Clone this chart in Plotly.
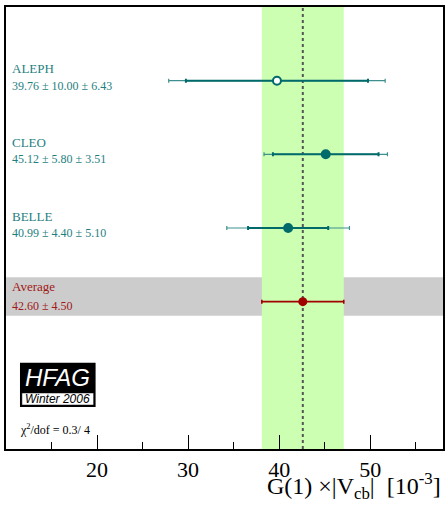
import numpy as np
import plotly.graph_objects as go

# ---- data ----
experiments = ["ALEPH", "CLEO", "BELLE"]
values = [39.76, 45.12, 40.99]
stat_err = [10.00, 5.80, 4.40]
syst_err = [6.43, 3.51, 5.10]
open_marker = [True, False, False]
avg_value = 42.60
avg_err = 4.50
chi2_text = "0.3/ 4"
x_ticks = [20, 30, 40, 50]
x_range = [10, 58]

y_pos = [4, 3, 2]
y_avg = 1

TEAL_TXT = "#1f7f7f"
TEAL = "#006a6a"
TEAL_LIGHT = "#3f8f8f"
RED = "#a00000"
RED_TXT = "#a01818"
SERIF = "Liberation Serif, Times New Roman, serif"
SANS = "Liberation Sans, Arial, sans-serif"

fig = go.Figure()

tot_err = [float(np.hypot(s, y)) for s, y in zip(stat_err, syst_err)]

# total error (thin)
fig.add_trace(go.Scatter(
    x=values, y=y_pos, mode="markers",
    marker=dict(size=1, color="rgba(0,0,0,0)"),
    error_x=dict(type="data", array=tot_err, color=TEAL_LIGHT, thickness=1.2, width=2),
    hoverinfo="skip", showlegend=False))
# stat error (thick) + markers
fig.add_trace(go.Scatter(
    x=values, y=y_pos, mode="markers",
    marker=dict(size=8,
                color=["white" if o else TEAL for o in open_marker],
                symbol="circle",
                line=dict(color=TEAL, width=2)),
    error_x=dict(type="data", array=stat_err, color=TEAL, thickness=2, width=2),
    showlegend=False))
# average
fig.add_trace(go.Scatter(
    x=[avg_value], y=[y_avg], mode="markers",
    marker=dict(size=9, color=RED),
    error_x=dict(type="data", array=[avg_err], color=RED, thickness=1.6, width=2),
    showlegend=False))

# background bands
fig.add_shape(type="rect", xref="paper", yref="y", x0=0, x1=1, y0=y_avg - 0.19, y1=y_avg + 0.33,
              fillcolor="#cccccc", line_width=0, layer="below")
fig.add_shape(type="rect", xref="x", yref="paper", x0=avg_value - avg_err, x1=avg_value + avg_err,
              y0=0, y1=1, fillcolor="#ccffb2", line_width=0, layer="below")
fig.add_shape(type="line", xref="x", yref="paper", x0=avg_value, x1=avg_value, y0=0, y1=1,
              line=dict(color="#555555", width=2, dash="dot"), layer="below")

# labels
for name, v, s, sy, y in zip(experiments, values, stat_err, syst_err, y_pos):
    fig.add_annotation(x=0.009, xref="paper", y=y + 0.16, yref="y", text=name,
                       showarrow=False, xanchor="left", yanchor="middle",
                       font=dict(family=SERIF, size=13, color=TEAL_TXT))
    fig.add_annotation(x=0.009, xref="paper", y=y - 0.07, yref="y",
                       text=f"{v:.2f} ± {s:.2f} ± {sy:.2f}",
                       showarrow=False, xanchor="left", yanchor="middle",
                       font=dict(family=SERIF, size=12, color=TEAL_TXT))
fig.add_annotation(x=0.009, xref="paper", y=y_avg + 0.2, yref="y", text="Average",
                   showarrow=False, xanchor="left", yanchor="middle",
                   font=dict(family=SERIF, size=13, color=RED_TXT))
fig.add_annotation(x=0.009, xref="paper", y=y_avg - 0.06, yref="y",
                   text=f"{avg_value:.2f} ± {avg_err:.2f}",
                   showarrow=False, xanchor="left", yanchor="middle",
                   font=dict(family=SERIF, size=12, color=RED_TXT))

# HFAG logo
fig.add_shape(type="rect", xref="paper", yref="paper", x0=0.032, x1=0.205, y0=0.095, y1=0.195,
              fillcolor="black", line_width=0)
fig.add_shape(type="rect", xref="paper", yref="paper", x0=0.0364, x1=0.2005, y0=0.0995, y1=0.1267,
              fillcolor="white", line=dict(color="black", width=0.5))
fig.add_annotation(x=0.118, xref="paper", y=0.161, yref="paper", text="<i>HFAG</i>",
                   showarrow=False, xanchor="center", yanchor="middle",
                   font=dict(family=SANS, size=24, color="white"))
fig.add_annotation(x=0.118, xref="paper", y=0.113, yref="paper", text="<i>Winter 2006</i>",
                   showarrow=False, xanchor="center", yanchor="middle",
                   font=dict(family=SANS, size=12, color="black"))
fig.add_annotation(x=0.027, xref="paper", y=0.045, yref="paper",
                   text=f"χ<sup>2</sup>/dof = {chi2_text}",
                   showarrow=False, xanchor="left", yanchor="middle",
                   font=dict(family=SERIF, size=12, color="black"))

# x title
fig.add_annotation(x=1.0, xref="paper", y=-0.04, yref="paper",
                   text="G(1) ×|V<sub>cb</sub>|&nbsp;&nbsp;[10<sup>-3</sup>]",
                   showarrow=False, xanchor="right", yanchor="top",
                   font=dict(family=SERIF, size=24, color="black"))

fig.update_layout(
    width=446, height=508,
    margin=dict(l=6, r=1, t=7, b=59),
    plot_bgcolor="white", paper_bgcolor="white",
    showlegend=False,
    xaxis=dict(range=x_range, tickvals=x_ticks, ticks="inside", ticklen=14, tickwidth=1,
               tickcolor="black", showgrid=False, zeroline=False,
               showline=True, linecolor="black", linewidth=2, mirror=True,
               tickfont=dict(family=SERIF, size=22, color="black"),
               minor=dict(dtick=5, tick0=0, ticks="inside", ticklen=7, tickcolor="black", showgrid=False)),
    yaxis=dict(range=[-1, 5], showticklabels=False, ticks="", showgrid=False, zeroline=False,
               showline=True, linecolor="black", linewidth=2, mirror=True),
)

fig.write_html("out.html")
